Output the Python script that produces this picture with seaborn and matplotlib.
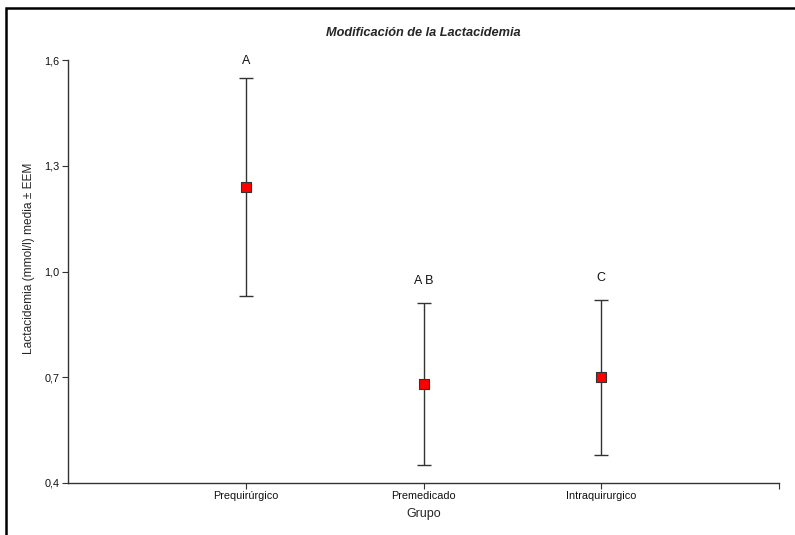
import matplotlib
matplotlib.use("Agg")
import matplotlib.pyplot as plt
from matplotlib.patches import Rectangle
import seaborn as sns
import pandas as pd

# data
grupos = ["Prequirúrgico", "Premedicado", "Intraquirurgico"]
medias = [1.24, 0.68, 0.70]
eem = [0.31, 0.23, 0.22]
letras = ["A", "A B", "C"]
y_ticks = [0.4, 0.7, 1.0, 1.3, 1.6]
y_tick_labels = ["0,4", "0,7", "1,0", "1,3", "1,6"]

sns.set_theme(style="white")
plt.rcParams["font.family"] = ["Liberation Sans", "DejaVu Sans"]

df = pd.DataFrame({"Grupo": grupos, "media": medias, "eem": eem})

fig = plt.figure(figsize=(7.95, 5.35), dpi=100)
ax = fig.add_axes([0.0855, 0.0972, 0.8945, 0.7906])

ax.errorbar(df["Grupo"], df["media"], yerr=df["eem"], fmt="none",
            ecolor="#333333", elinewidth=1, capsize=5, capthick=1, zorder=2)
sns.scatterplot(data=df, x="Grupo", y="media", marker="s", s=60,
                color="#ff0000", edgecolor="#333333", linewidth=0.8,
                ax=ax, zorder=3)

offsets = [8, 12, 11]
for i, (m, e, t) in enumerate(zip(medias, eem, letras)):
    ax.annotate(t, (i, m + e), xytext=(0, offsets[i]), textcoords="offset points",
                ha="center", va="bottom", fontsize=9, color="#111111")

ax.set_xlim(-1, 3)
ax.set_xticks([0, 1, 2, 3])
ax.set_xticklabels(grupos + [""], fontsize=7.8)
ax.set_ylim(0.4, 1.6)
ax.set_yticks(y_ticks)
ax.set_yticklabels(y_tick_labels, fontsize=7.8)

for side in ["top", "right"]:
    ax.spines[side].set_visible(False)
for side in ["left", "bottom"]:
    ax.spines[side].set_color("#333333")
    ax.spines[side].set_linewidth(1)
ax.tick_params(axis="both", direction="out", length=4, width=0.8,
               color="#333333", pad=2, labelcolor="#111111")
ax.tick_params(axis="x", bottom=True)
ax.tick_params(axis="y", left=True)

ax.set_xlabel("Grupo", fontsize=9, labelpad=5)
ax.set_ylabel("Lactacidemia (mmol/l) media ± EEM", fontsize=8.6)
ax.yaxis.set_label_coords(-0.047, 0.532)
ax.set_title("Modificación de la Lactacidemia", fontsize=9.2,
             fontweight="bold", fontstyle="italic", pad=17)

# outer frame, cropped at the right and bottom edges
fig.add_artist(Rectangle((0.0075, -0.1), 1.1, 1.085, transform=fig.transFigure,
                         fill=False, lw=1.8, ec="black"))

fig.savefig("out.png", dpi=100)
